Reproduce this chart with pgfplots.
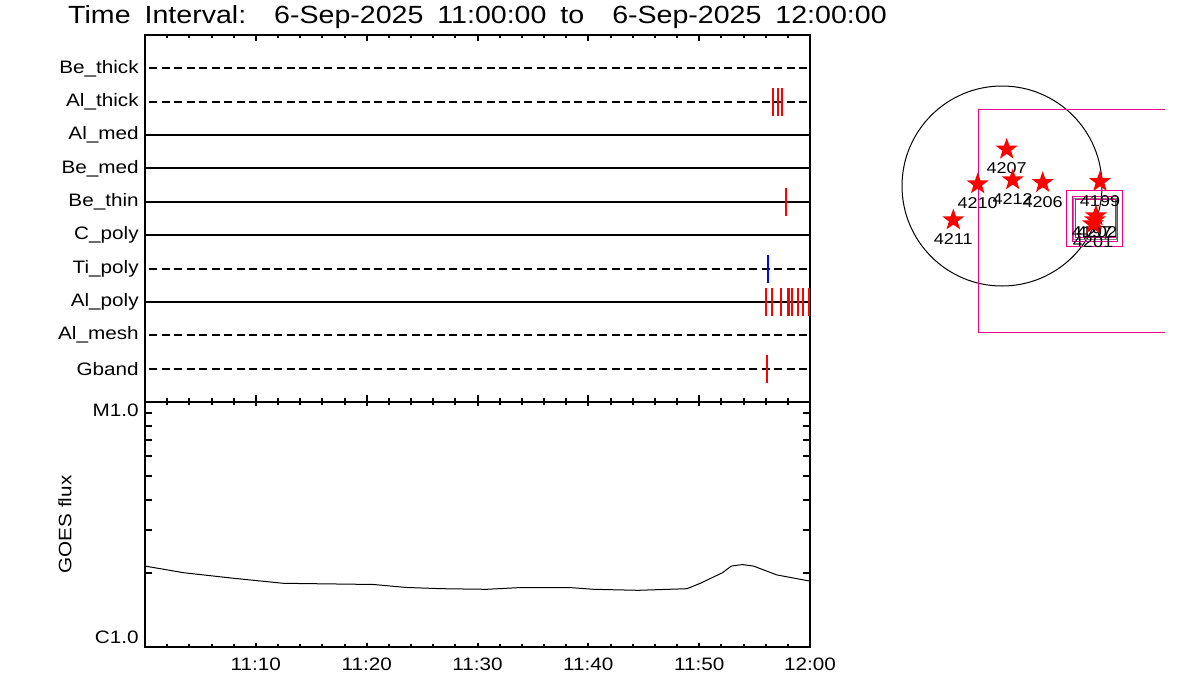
\documentclass[border=0pt]{standalone}
\usepackage{fontspec}
\setmainfont[FakeStretch=1.15]{Liberation Sans}
\usepackage{pgfplots}
\pgfplotsset{compat=1.18}

% filled five-point star for the active regions
\pgfdeclareplotmark{fstar}{%
  \pgfpathmoveto{\pgfpointpolar{90}{\pgfplotmarksize}}%
  \pgfpathlineto{\pgfpointpolar{126}{0.4*\pgfplotmarksize}}%
  \pgfpathlineto{\pgfpointpolar{162}{\pgfplotmarksize}}%
  \pgfpathlineto{\pgfpointpolar{198}{0.4*\pgfplotmarksize}}%
  \pgfpathlineto{\pgfpointpolar{234}{\pgfplotmarksize}}%
  \pgfpathlineto{\pgfpointpolar{270}{0.4*\pgfplotmarksize}}%
  \pgfpathlineto{\pgfpointpolar{306}{\pgfplotmarksize}}%
  \pgfpathlineto{\pgfpointpolar{342}{0.4*\pgfplotmarksize}}%
  \pgfpathlineto{\pgfpointpolar{18}{\pgfplotmarksize}}%
  \pgfpathlineto{\pgfpointpolar{54}{0.4*\pgfplotmarksize}}%
  \pgfpathclose\pgfusepathqfill}

\newcommand\tsp{\hspace{8.4pt}}

\begin{document}
\fontsize{10.8pt}{13pt}\selectfont
\begin{tikzpicture}
\path[use as bounding box] (0,0) rectangle (720pt,420pt);

% filter timeline
\begin{axis}[
  at={(87pt,178.8pt)}, anchor=south west, scale only axis,
  width=399pt, height=220.2pt,
  xmin=0, xmax=60, ymin=0, ymax=11,
  xtick={0,10,...,60}, minor xtick={2,4,...,58}, xticklabels={},
  ytick={1,...,10},
  yticklabels={Gband,Al\_mesh,Al\_poly,Ti\_poly,C\_poly,Be\_thin,Be\_med,Al\_med,Al\_thick,Be\_thick},
  major y tick style={draw=none},
  tick align=inside, major tick length=3.9pt, minor tick length=2.1pt,
  axis line style={line width=1.6pt}, tick style={line width=1.2pt, black},
  title={Time\tsp Interval:\tsp\tsp 6-Sep-2025\tsp 11:00:00\tsp to\tsp\tsp 6-Sep-2025\tsp 12:00:00},
  title style={at={(0.5,1)}, anchor=base, yshift=0.6pt, font=\fontsize{14.9pt}{17pt}\selectfont},
]
\addplot[black, line width=1.2pt, dash pattern=on 4.8pt off 2.7pt] coordinates {(0.4,10) (59.8,10)};
\addplot[black, line width=1.2pt, dash pattern=on 4.8pt off 2.7pt] coordinates {(0.4,9) (59.8,9)};
\addplot[black, line width=1.2pt] coordinates {(0,8) (60,8)};
\addplot[black, line width=1.2pt] coordinates {(0,7) (60,7)};
\addplot[black, line width=1.2pt] coordinates {(0,6) (60,6)};
\addplot[black, line width=1.2pt] coordinates {(0,5) (60,5)};
\addplot[black, line width=1.2pt, dash pattern=on 4.8pt off 2.7pt] coordinates {(0.4,4) (59.8,4)};
\addplot[black, line width=1.2pt] coordinates {(0,3) (60,3)};
\addplot[black, line width=1.2pt, dash pattern=on 4.8pt off 2.7pt] coordinates {(0.4,2) (59.8,2)};
\addplot[black, line width=1.2pt, dash pattern=on 4.8pt off 2.7pt] coordinates {(0.4,1) (59.8,1)};
% exposures
\addplot[only marks, red, mark=|, mark size=8.4pt, mark options={line width=1.2pt}] coordinates {
  (56.69,9) (57.08,9) (57.50,9)
  (57.86,6)
  (56.06,3) (56.60,3) (57.41,3) (57.99,3) (58.08,3) (58.40,3) (58.94,3) (59.39,3) (59.94,3)
  (56.15,1)};
\addplot[only marks, blue, mark=|, mark size=8.4pt, mark options={line width=1.2pt}] coordinates {(56.24,4)};
\end{axis}

% GOES light curve
\begin{axis}[
  at={(87pt,31.8pt)}, anchor=south west, scale only axis,
  width=399pt, height=147pt,
  xmin=0, xmax=60, ymode=log, ymin=1e-6, ymax=1e-5,
  xtick={0,10,...,60}, minor xtick={2,4,...,58},
  xticklabels={,11:10,11:20,11:30,11:40,11:50,12:00},
  xticklabel style={yshift=-3pt},
  ytick={1e-6,1e-5},
  yticklabels={\raisebox{2.1pt}[0pt][0pt]{C1.0},\raisebox{-8.7pt}[0pt][0pt]{M1.0}},
  minor y tick style={draw=none},
  extra y ticks={2e-6,3e-6,4e-6,5e-6,6e-6,7e-6,8e-6,9e-6}, extra y tick labels={},
  extra y tick style={major tick length=4.2pt},
  tick align=inside, major tick length=2.5pt, minor tick length=1.7pt,
  axis line style={line width=1.6pt}, tick style={line width=1.2pt, black},
  ylabel={GOES flux},
  ylabel style={at={(axis description cs:-0.1203,0.5)}, anchor=center},
]
\addplot[black, line width=0.6pt] coordinates {
  (0,2.14e-6) (3.5,2.01e-6) (7.9,1.91e-6) (12.5,1.82e-6) (20.6,1.80e-6)
  (23.6,1.75e-6) (26.8,1.73e-6) (30.8,1.72e-6) (33.6,1.746e-6) (38.5,1.746e-6)
  (40.5,1.72e-6) (44.5,1.704e-6) (48.9,1.73e-6) (50.1,1.82e-6) (52.1,2.01e-6)
  (52.9,2.14e-6) (53.9,2.17e-6) (54.9,2.14e-6) (57.0,1.97e-6) (59.8,1.865e-6) (60,1.86e-6)};
\end{axis}

% solar disk with active regions (pixel-like frame)
\begin{axis}[
  at={(516pt,0pt)}, anchor=south west, scale only axis,
  width=204pt, height=420pt,
  xmin=860, xmax=1200, ymin=0, ymax=700, y dir=reverse,
  hide axis, clip=false,
]
\draw[black, line width=0.6pt] (axis cs:1002,186) ellipse [x radius=60pt, y radius=60pt];
\draw[magenta, line width=0.6pt] (axis cs:1165,109.3) -- (axis cs:978.3,109.3)
  -- (axis cs:978.3,332.3) -- (axis cs:1165,332.3);
\draw[magenta, line width=0.6pt] (axis cs:1066,190.3) rectangle (axis cs:1122.3,246.3);
\draw[magenta, line width=0.6pt] (axis cs:1072.3,196.7) rectangle (axis cs:1117.7,241);
\draw[gray, line width=0.6pt] (axis cs:1073.8,198.3) rectangle (axis cs:1116,239.3);
\draw[magenta, line width=0.6pt] (axis cs:1075.3,199.8) rectangle (axis cs:1115,237.7);
\addplot[only marks, red, mark=fstar, mark size=6.9pt,
  point meta=explicit symbolic, nodes near coords,
  nodes near coords style={anchor=center, yshift=-11.4pt, text=black, font=\fontsize{9.4pt}{11pt}\selectfont}]
  coordinates {
  (1006.7,149.3) [4207]
  (977.7,184) [4210]
  (1012.7,180) [4212]
  (1042.7,182.7) [4206]
  (1100,181.7) [4199]
  (953.3,220) [4211]};
\addplot[only marks, red, mark=fstar, mark size=6.9pt] coordinates {
  (1096,216) (1095,220) (1093,224)};
\node[font=\fontsize{9.4pt}{11pt}\selectfont] at (axis cs:1092,232) {4197};
\node[font=\fontsize{9.4pt}{11pt}\selectfont] at (axis cs:1097,232) {4202};
\node[font=\fontsize{9.4pt}{11pt}\selectfont] at (axis cs:1093,242) {4201};
\end{axis}
\end{tikzpicture}
\end{document}
